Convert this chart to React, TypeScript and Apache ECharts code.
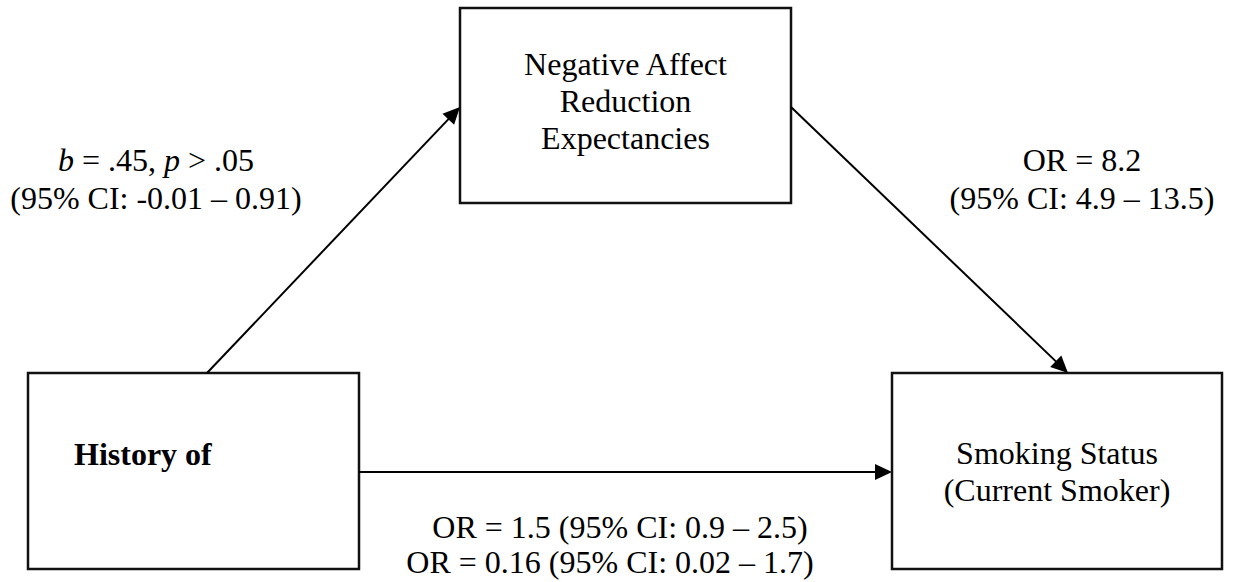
import React, { useEffect, useRef } from "react";
import * as echarts from "echarts";

// ---- Text content of the diagram ----
const mediatorLabel = ["Negative Affect", "Reduction", "Expectancies"];
const predictorLabel = ["History of"];
const outcomeLabel = ["Smoking Status", "(Current Smoker)"];
const pathALabel = ["{i|b} = .45, {i|p} > .05", "(95% CI: -0.01 – 0.91)"];
const pathBLabel = ["OR = 8.2", "(95% CI: 4.9 – 13.5)"];
const pathCLabel = ["OR = 1.5 (95% CI: 0.9 – 2.5)", "OR = 0.16 (95% CI: 0.02 – 1.7)"];

// ---- Layout (pixels) ----
const W = 1236;
const H = 582;
const FONT = "'Liberation Serif', 'Times New Roman', serif";
const FS = 32;
const LINE_H = 37;

const boxes = {
  mediator: { x: 460, y: 8, w: 331, h: 195 },
  predictor: { x: 28, y: 373, w: 331, h: 196 },
  outcome: { x: 892, y: 373, w: 330, h: 196 },
};

const arrows = [
  { from: [207, 373], to: [460, 107] },
  { from: [791, 107], to: [1068, 373] },
  { from: [359, 472], to: [892, 472] },
];

function arrowElements(from: number[], to: number[]) {
  const len = 17;
  const half = 8;
  const dx = to[0] - from[0];
  const dy = to[1] - from[1];
  const d = Math.sqrt(dx * dx + dy * dy);
  const ux = dx / d;
  const uy = dy / d;
  const nx = -uy;
  const ny = ux;
  const bx = to[0] - ux * len;
  const by = to[1] - uy * len;
  return [
    {
      type: "line",
      shape: { x1: from[0], y1: from[1], x2: bx + ux * 2, y2: by + uy * 2 },
      style: { stroke: "#000", lineWidth: 2 },
    },
    {
      type: "polygon",
      shape: {
        points: [
          [to[0], to[1]],
          [bx + nx * half, by + ny * half],
          [bx - nx * half, by - ny * half],
        ],
      },
      style: { fill: "#000" },
    },
  ];
}

function textEl(text: string, x: number, y: number, opts: any = {}) {
  return {
    type: "text",
    x,
    y,
    style: {
      text,
      fontFamily: FONT,
      fontSize: FS,
      fill: "#000",
      align: opts.align || "center",
      verticalAlign: "middle",
      fontWeight: opts.bold ? "bold" : "normal",
      rich: {
        i: { fontFamily: FONT, fontSize: FS, fontStyle: "italic", fill: "#000" },
      },
    },
  };
}

export default function App() {
  const ref = useRef<HTMLDivElement>(null);
  useEffect(() => {
    if (!ref.current) return;
    const chart = echarts.init(ref.current, null, { renderer: "svg" });
    const elements: any[] = [];

    Object.values(boxes).forEach((b) => {
      elements.push({
        type: "rect",
        shape: { x: b.x, y: b.y, width: b.w, height: b.h },
        style: { fill: "#fff", stroke: "#111", lineWidth: 2.5 },
      });
    });

    arrows.forEach((a) => elements.push(...arrowElements(a.from, a.to)));

    const med = boxes.mediator;
    const medCx = med.x + med.w / 2;
    const medCy = med.y + med.h / 2 - 5;
    mediatorLabel.forEach((t, i) => {
      elements.push(textEl(t, medCx, medCy + (i - (mediatorLabel.length - 1) / 2) * LINE_H));
    });

    const pred = boxes.predictor;
    predictorLabel.forEach((t, i) => {
      elements.push(textEl(t, pred.x + 46, 454 + i * LINE_H, { align: "left", bold: true }));
    });

    const out = boxes.outcome;
    const outCx = out.x + out.w / 2;
    outcomeLabel.forEach((t, i) => {
      elements.push(textEl(t, outCx, 453 + i * LINE_H));
    });

    pathALabel.forEach((t, i) => elements.push(textEl(t, 156, 160 + i * 38)));
    pathBLabel.forEach((t, i) => elements.push(textEl(t, 1082, 160 + i * 38)));
    elements.push(textEl(pathCLabel[0], 620, 527));
    elements.push(textEl(pathCLabel[1], 610, 562));

    chart.setOption({
      animation: false,
      backgroundColor: "#fff",
      graphic: { elements },
    });
    return () => chart.dispose();
  }, []);

  return (
    <div
      ref={ref}
      style={{ position: "fixed", left: 0, top: 0, width: W, height: H, background: "#fff" }}
    />
  );
}
